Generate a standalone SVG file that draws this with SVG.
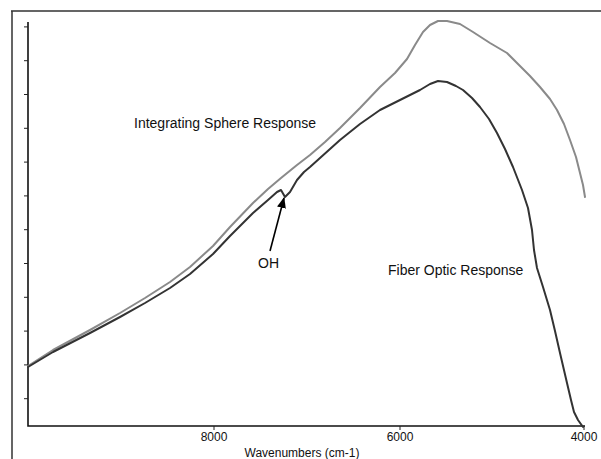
<svg xmlns="http://www.w3.org/2000/svg" width="601" height="459" viewBox="0 0 601 459">
<style>
.frame{stroke:#333;stroke-width:1.5;fill:none}
.axis{stroke:#111;stroke-width:1.6;fill:none}
.tick{stroke:#222;stroke-width:1}
.lbl{font-family:"Liberation Sans",Arial,sans-serif;font-size:14px;fill:#111}
.ax{font-family:"Liberation Sans",Arial,sans-serif;font-size:12px;fill:#111}
.gray{stroke:#8a8a8a;stroke-width:2;fill:none;stroke-linejoin:round;stroke-linecap:round}
.dark{stroke:#333;stroke-width:2;fill:none;stroke-linejoin:round;stroke-linecap:round}
</style>
<defs>
<marker id="ah" markerWidth="11" markerHeight="11" refX="10" refY="5.5" orient="auto" markerUnits="userSpaceOnUse">
<path d="M0,1 L11,5.5 L0,10 Z" fill="#000"/>
</marker>
</defs>
<rect width="601" height="459" fill="#fff"/>
<g id="frame">
<path class="frame" d="M11,11 H601 M12,11 V459"/>
</g>
<g id="axes">
<path class="axis" d="M28,22 V426 H585"/>
<path class="tick" d="M24,26.9 H28 M24,60.7 H28 M24,94.5 H28 M24,128.3 H28 M24,162.1 H28 M24,195.9 H28 M24,229.7 H28 M24,263.5 H28 M24,297.3 H28 M24,331.1 H28 M24,364.9 H28 M24,398.7 H28"/>
<path class="tick" d="M214,426 V430 M400,426 V430 M584,426 V430"/>
<text class="ax" x="214" y="441" text-anchor="middle">8000</text>
<text class="ax" x="400" y="441" text-anchor="middle">6000</text>
<text class="ax" x="584" y="441" text-anchor="middle">4000</text>
<text class="ax" x="302" y="457" text-anchor="middle">Wavenumbers (cm-1)</text>
</g>
<g id="integrating-sphere">
<path class="gray" d="M28,366 L53,350 L90,330 L120,313 L145,298 L170,282 L190,267 L213,246 L230,227 L253,203 L268,189 L281,178 L297,165 L310,155 L325,142 L340,128 L360,108 L380,87 L395,73 L407,59 L415,45 L423,32 L430,25 L438,21 L447,21 L460,24 L473,32 L490,43 L507,53 L520,66 L530,76 L540,87 L550,99 L557,110 L564,124 L570,140 L576,157 L580,173 L583,185 L585,197"/>
<text class="lbl" x="134" y="128">Integrating Sphere Response</text>
</g>
<g id="fiber-optic">
<path class="dark" d="M28,367 L53,352 L90,333 L120,317 L145,303 L170,288 L190,274 L213,254 L230,236 L253,213 L268,200 L277,192 L281,190 L285,197 L290,192 L297,180 L304,172 L310,167 L320,158 L340,140 L360,124 L380,110 L400,100 L420,90 L430,84 L438,81 L447,82 L456,86 L463,90 L472,98 L480,107 L489,119 L497,133 L505,149 L513,167 L522,190 L528,208 L532,230 L534,250 L537,268 L543,287 L550,310 L555,331 L560,353 L567,383 L571,400 L574,412 L578,420 L583,427"/>
<text class="lbl" x="388" y="275">Fiber Optic Response</text>
</g>
<g id="oh-label">
<text class="lbl" x="258" y="268">OH</text>
</g>
<g id="connectors">
<path d="M270,251 L284,198" stroke="#000" stroke-width="1.6" fill="none" marker-end="url(#ah)"/>
</g>
</svg>
